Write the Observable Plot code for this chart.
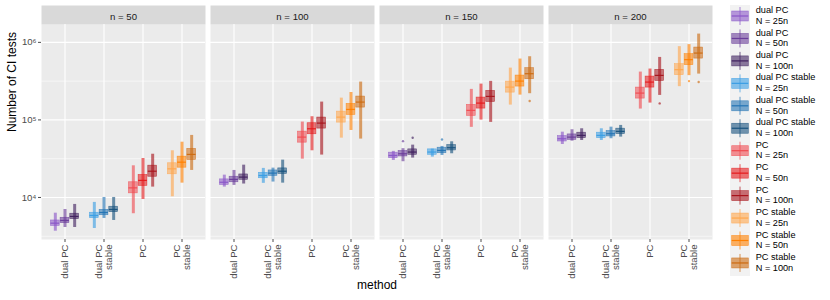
<!DOCTYPE html>
<html><head><meta charset="utf-8">
<script src="https://cdn.jsdelivr.net/npm/d3@7"></script>
<script src="https://cdn.jsdelivr.net/npm/@observablehq/plot@0.6"></script>
<style>
body{margin:0;background:#fff;font-family:"Liberation Sans",Arial,sans-serif;}
#wrap{position:relative;width:830px;height:300px;overflow:hidden;}
#chart{position:absolute;left:0;top:0;}
#legend{position:absolute;left:720px;top:0;}
</style></head><body>
<div id="wrap"><div id="chart"></div><svg id="legend" width="110" height="300"></svg></div>
<script>
// ---- categories ----
const panels = [50, 100, 150, 200];
const methods = ["dual PC", "dual PC stable", "PC", "PC stable"];
const sizes = ["25n", "50n", "100n"];
const colors = ["#8a56c8", "#6a3d9a", "#40215f",
                "#3a9ee4", "#2474b4", "#17527e",
                "#f04a50", "#e41a1c", "#a8141c",
                "#ffa64d", "#ff8000", "#cc6a10"];
const majorTicks = [1e4, 1e5, 1e6];
const minorTicks = [3162, 31623, 316228];

// ---- values (order: method, then N = 25n, 50n, 100n) ----
const med_n50 = [4660, 5050, 5690, 5860, 6400, 7000, 13300, 16600, 21800, 23400, 28500, 35900];
const q1_n50  = [4300, 4660, 5250, 5410, 5900, 6460, 11300, 14100, 18500, 19900, 24200, 30500];
const q3_n50  = [5050, 5470, 6170, 6350, 6930, 7590, 15700, 19500, 25700, 27600, 33600, 42300];
const lo_n50  = [3670, 4100, 4100, 3980, 5360, 5050, 6170, 9420, 13600, 10200, 15300, 22300];
const hi_n50  = [6270, 7000, 8130, 8630, 10000, 10000, 25600, 31800, 36100, 40000, 51600, 63100];

const med_n100 = [15700, 17100, 18300, 19200, 20600, 21800, 60000, 76900, 91000, 108600, 136500, 169800];
const q1_n100  = [14500, 15700, 16900, 17700, 19000, 20100, 50900, 65300, 77300, 92300, 115900, 144200];
const q3_n100  = [17100, 18500, 19800, 20800, 22300, 23700, 70600, 90600, 107200, 127900, 160700, 200000];
const lo_n100  = [13600, 14300, 14900, 15200, 15800, 15300, 31200, 40000, 35200, 58200, 73100, 56600];
const hi_n100  = [19400, 22300, 26100, 23700, 23900, 30300, 93800, 109900, 169800, 191000, 225900, 307600];

const med_n150 = [34800, 36600, 38500, 38500, 40400, 43800, 132700, 164800, 200900, 264800, 316700, 394500];
const q1_n150  = [32100, 33800, 35500, 35500, 37200, 40400, 112700, 140000, 170600, 224900, 269200, 335000];
const q3_n150  = [37800, 39700, 41700, 41700, 43800, 47400, 156300, 194100, 236600, 311900, 373300, 464500];
const lo_n150  = [30000, 28900, 32200, 33100, 34800, 36600, 80200, 99500, 92900, 155200, 208900, 217800];
const hi_n150  = [39300, 42600, 47300, 42100, 45500, 52200, 247700, 289700, 314100, 465600, 609500, 653100];

const med_n200 = [57200, 60000, 63100, 63100, 66400, 71100, 221800, 307600, 375000, 444600, 598400, 727800];
const q1_n200  = [52700, 55300, 58200, 58200, 61200, 65600, 188400, 261200, 318400, 377600, 508200, 618000];
const q3_n200  = [61900, 65000, 68400, 68400, 71900, 77100, 261200, 362200, 441600, 523600, 704700, 857000];
const lo_n200  = [48200, 53200, 54300, 54300, 57200, 60000, 138000, 164800, 207000, 268500, 372400, 389900];
const hi_n200  = [69500, 74700, 76900, 76900, 80700, 84900, 414000, 452900, 639700, 881000, 935400, 1279000];

// isolated points
const outlier_n = [150, 150, 150, 150, 200, 200, 200];
const outlier_method = ["dual PC", "dual PC", "dual PC stable", "PC stable", "PC", "PC stable", "PC stable"];
const outlier_size = ["50n", "100n", "50n", "100n", "100n", "50n", "100n"];
const outlier_value = [53200, 58900, 56000, 175000, 163300, 316700, 307600];

// ---- table ----
const MED = [med_n50, med_n100, med_n150, med_n200];
const Q1 = [q1_n50, q1_n100, q1_n150, q1_n200];
const Q3 = [q3_n50, q3_n100, q3_n150, q3_n200];
const LO = [lo_n50, lo_n100, lo_n150, lo_n200];
const HI = [hi_n50, hi_n100, hi_n150, hi_n200];
const keys = methods.flatMap(m => sizes.map(s => m + "|" + s));
const rows = panels.flatMap((p, pi) => methods.flatMap((m, mi) => sizes.map((s, si) => {
  const k = mi * 3 + si;
  return {n: p, method: m, size: s, si, key: m + "|" + s,
          med: MED[pi][k], q1: Q1[pi][k], q3: Q3[pi][k], lo: LO[pi][k], hi: HI[pi][k]};
})));
const outliers = outlier_n.map((n, i) => ({n, method: outlier_method[i], size: outlier_size[i],
  si: sizes.indexOf(outlier_size[i]), key: outlier_method[i] + "|" + outlier_size[i], v: outlier_value[i]}));

const W = 718, H = 300, mT = 24, mB = 61, mL = 40, mR = 6;
const sup = {"3": "\u00b3", "4": "\u2074", "5": "\u2075", "6": "\u2076"};
const font = "Liberation Sans, Arial, sans-serif";

function build(slot) {
  const pad = 0.45;
  const perSize = [0, 1, 2].flatMap(si => {
    const d = rows.filter(r => r.si === si);
    const o = outliers.filter(r => r.si === si);
    const dx = (si - 1) * slot;
    const inL = si * slot + pad, inR = (2 - si) * slot + pad;
    return [
      Plot.ruleX(d, {fx: "n", x: "method", y1: "lo", y2: "hi", stroke: "key", strokeWidth: 3, strokeOpacity: 0.62, dx}),
      Plot.dot(o, {fx: "n", x: "method", y: "v", r: 1.2, fill: "key", fillOpacity: 0.65, dx}),
      Plot.barY(d, {fx: "n", x: "method", y1: "q1", y2: "q3", fill: "key", fillOpacity: 0.55,
                    stroke: "key", strokeOpacity: 0.75, strokeWidth: 0.6, insetLeft: inL, insetRight: inR}),
      Plot.tickY(d, {fx: "n", x: "method", y: "med", stroke: "key", strokeWidth: 1.2, strokeOpacity: 0.95,
                     insetLeft: inL, insetRight: inR})
    ];
  });
  return Plot.plot({
    width: W, height: H, marginTop: mT, marginBottom: mB, marginLeft: mL, marginRight: mR,
    style: {fontFamily: font, background: "white", overflow: "visible"},
    fx: {domain: panels, paddingInner: 0.0325, paddingOuter: 0},
    x: {domain: methods, paddingInner: 0.25, paddingOuter: 0.225},
    y: {type: "log", domain: [2870, 1.7e6]},
    color: {domain: keys, range: colors},
    marks: [
      Plot.frame({fill: "#ebebeb"}),
      Plot.frame({fill: "#d9d9d9", insetTop: -19, insetBottom: H - mT - mB}),
      Plot.gridY({ticks: minorTicks, stroke: "#fff", strokeOpacity: 1, strokeWidth: 0.55}),
      Plot.gridY({ticks: majorTicks, stroke: "#fff", strokeOpacity: 1, strokeWidth: 1.1}),
      Plot.gridX({stroke: "#fff", strokeOpacity: 1, strokeWidth: 1.1}),
      Plot.axisY({ticks: majorTicks, tickFormat: d => "10" + sup[String(Math.round(Math.log10(d)))],
                  tickSize: 3, tickPadding: 2, fontSize: 9.6, color: "#4d4d4d", label: null}),
      Plot.axisX({tickRotate: -90, tickSize: 3, tickPadding: 2, fontSize: 9.6, color: "#4d4d4d", label: null,
                  tickFormat: d => d.replace(" stable", "\nstable")}),
      Plot.axisFx({anchor: "top", tickSize: 0, tickPadding: 5, fontSize: 9.6, color: "#1a1a1a", label: null,
                   tickFormat: d => `n = ${d}`}),
      ...perSize,
      Plot.text(["method"], {frameAnchor: "bottom", facet: "super", dy: 49, fontSize: 12, fill: "#000"}),
      Plot.text(["Number of CI tests"], {frameAnchor: "left", facet: "super", rotate: -90, dx: -29, fontSize: 12, fill: "#000"})
    ]
  });
}

let plot = build(9.76);
const bw = plot.scale("x").bandwidth;
if (bw) plot = build(bw / 3);
document.getElementById("chart").appendChild(plot);

// ---- legend ----
const lg = d3.select("#legend").attr("font-family", font);
lg.append("rect").attr("x", 10).attr("y", 5).attr("width", 20).attr("height", 271).attr("fill", "#f2f2f2");
keys.forEach((k, i) => {
  const [m, s] = k.split("|");
  const c = colors[i];
  const cy = 16 + 22.45 * i;
  const g = lg.append("g");
  g.append("line").attr("x1", 20).attr("x2", 20).attr("y1", cy - 9).attr("y2", cy + 9)
    .attr("stroke", c).attr("stroke-opacity", 0.7).attr("stroke-width", 1);
  g.append("rect").attr("x", 11.7).attr("y", cy - 5).attr("width", 16.6).attr("height", 10)
    .attr("fill", c).attr("fill-opacity", 0.6).attr("stroke", c).attr("stroke-opacity", 0.75).attr("stroke-width", 0.6);
  g.append("line").attr("x1", 11.7).attr("x2", 28.3).attr("y1", cy).attr("y2", cy)
    .attr("stroke", c).attr("stroke-width", 1.2);
  g.append("text").attr("x", 35.7).attr("y", cy - 5.3).attr("dominant-baseline", "middle")
    .attr("font-size", 9.2).attr("fill", "#000").text(m);
  g.append("text").attr("x", 35.7).attr("y", cy + 5.3).attr("dominant-baseline", "middle")
    .attr("font-size", 9.2).attr("fill", "#000").text("N = " + s);
});
</script>
</body></html>
